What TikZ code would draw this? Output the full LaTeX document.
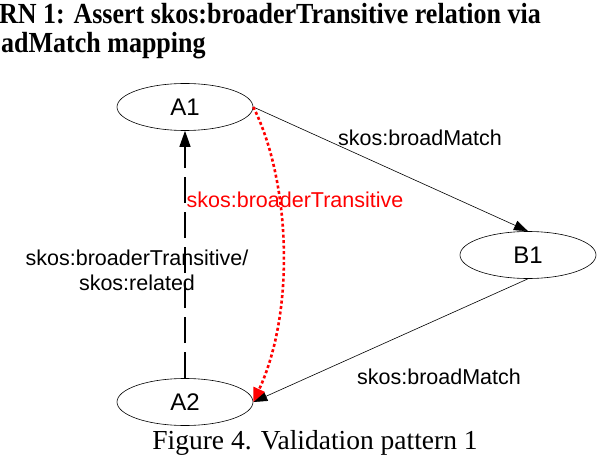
\documentclass[tikz,border=0pt]{standalone}
\usepackage{graphicx}
\usepackage{fontspec}
\setmainfont{Liberation Serif}
\setsansfont{Liberation Sans}
\usetikzlibrary{shapes.geometric,arrows.meta}
\begin{document}
\begin{tikzpicture}[x=1pt,y=-1pt,
  nodeell/.style={draw,ellipse,minimum width=136pt,minimum height=47pt,inner sep=0pt,font=\sffamily\fontsize{24}{26}\selectfont,line width=0.6pt},
  lbl/.style={font=\sffamily\fontsize{21.5}{25}\selectfont,inner sep=0pt},
  ttl/.style={font=\bfseries\fontsize{26}{29}\selectfont,anchor=base west,inner sep=0pt},
  edge/.style={line width=0.6pt,-{Triangle[length=14pt,width=10pt]}},
  redc/.style={red,line width=2.6pt,dash pattern=on 3pt off 2.5pt,-{Triangle[length=14pt,width=12pt,fill=red]}}]
\useasboundingbox (0,0) rectangle (598,460);
\node[ttl] (t1) at (-1,24) {\scalebox{1}[1.12]{RN 1: Assert skos:broaderTransitive relation via}};
\node[ttl] (t2) at (1,53) {\scalebox{1}[1.12]{adMatch mapping}};
\node[nodeell] (A1) at (185,107) {A1};
\node[nodeell] (B1) at (528,255) {B1};
\node[nodeell] (A2) at (185,402) {A2};
\node[font=\fontsize{27.5}{30}\selectfont,inner sep=0pt] (cap) at (315,443) {Figure 4. Validation pattern 1};
\draw[edge] (A1.east) -- (B1.north);
\draw[edge] (B1.south) -- (A2.east);
\draw[line width=1.2pt,dash pattern=on 26pt off 9pt,-{Triangle[length=16pt,width=11pt]}] (A2.north) -- (A1.south);
\draw[redc] (A1.east) .. controls (290,180) and (296,310) .. (A2.east);
\node[lbl] (l1) at (420,138) {skos:broadMatch};
\node[lbl,red] (l2) at (295,200) {skos:broaderTransitive};
\node[lbl,align=center] (l3) at (137,270) {skos:broaderTransitive/\\skos:related};
\node[lbl] (l4) at (439,377) {skos:broadMatch};
\end{tikzpicture}
\end{document}
